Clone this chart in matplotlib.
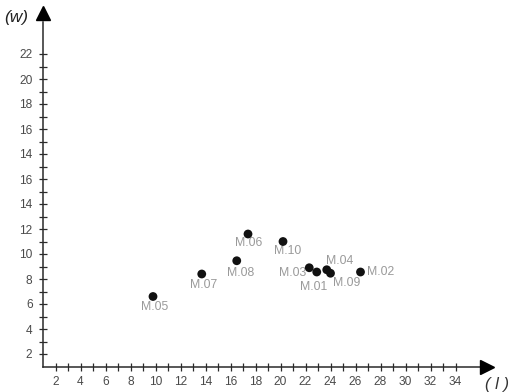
import matplotlib
matplotlib.use("Agg")
import matplotlib.pyplot as plt
from matplotlib.ticker import FixedLocator, FixedFormatter

plt.rcParams['font.family'] = ['Liberation Sans', 'DejaVu Sans']

# Samples: length (l) and width (w)
names = ["M.01", "M.02", "M.03", "M.04", "M.05",
         "M.06", "M.07", "M.08", "M.09", "M.10"]
length_l = [22.9, 26.4, 22.3, 23.7, 9.8, 17.4, 13.7, 16.5, 24.0, 20.2]
width_w = [8.56, 8.56, 8.9, 8.74, 6.6, 11.6, 8.4, 9.46, 8.46, 11.0]

# Axis tick labels
x_tick_pos = list(range(2, 35, 2))
x_tick_labels = [str(v) for v in x_tick_pos]
y_tick_pos = list(range(2, 27, 2))
y_tick_labels = ["2", "4", "6", "8", "10", "12", "14",
                 "16", "14", "16", "18", "20", "22"]

# Label placement around each point (offset in pixels, alignment)
label_place = {
    "M.01": ((-3, -15), "center"),
    "M.02": ((6, 0), "left"),
    "M.03": ((-3, -5), "right"),
    "M.04": ((13, 9), "center"),
    "M.05": ((2, -10), "center"),
    "M.06": ((1, -9), "center"),
    "M.07": ((2, -11), "center"),
    "M.08": ((4, -12), "center"),
    "M.09": ((16, -10), "center"),
    "M.10": ((5, -10), "center"),
}

fig = plt.figure(figsize=(5.10, 3.92), dpi=100)
ax = fig.add_axes([0, 0, 1, 1])
ax.set_xlim(-2.44, 38.36)
ax.set_ylim(-1.04, 30.32)
ax.patch.set_alpha(0)

axis_color = "#2a2a2a"
for side in ("top", "right"):
    ax.spines[side].set_visible(False)
ax.spines["left"].set_position(("data", 1))
ax.spines["bottom"].set_position(("data", 1))
ax.spines["left"].set_bounds(1, 28.6)
ax.spines["bottom"].set_bounds(1, 36.2)
for side in ("left", "bottom"):
    ax.spines[side].set_color(axis_color)
    ax.spines[side].set_linewidth(1.1)

ax.xaxis.set_major_locator(FixedLocator(x_tick_pos))
ax.xaxis.set_major_formatter(FixedFormatter(x_tick_labels))
ax.xaxis.set_minor_locator(FixedLocator(list(range(3, 35, 2))))
ax.yaxis.set_major_locator(FixedLocator(y_tick_pos))
ax.yaxis.set_major_formatter(FixedFormatter(y_tick_labels))
ax.yaxis.set_minor_locator(FixedLocator(list(range(3, 27, 2))))

ax.tick_params(which="both", direction="inout", length=5.5, width=0.9,
               color=axis_color)
ax.tick_params(axis="x", which="major", pad=4.0, labelsize=8.6,
               labelcolor="#4a4a4a")
ax.tick_params(axis="y", which="major", pad=4.8, labelsize=8.6,
               labelcolor="#4a4a4a")

# Arrow heads at the ends of both axes
ax.plot([36.55], [1], marker=">", markersize=10.5, color="black",
        clip_on=False, zorder=5)
ax.plot([1], [29.3], marker="^", markersize=9.5, color="black",
        clip_on=False, zorder=5)

# Axis titles
ax.text(-1.15, 28.95, "(w)", fontsize=12.5, style="italic",
        color="#222222", ha="center", va="center")
ax.text(38.3, -0.4, "( l )", fontsize=12, style="italic",
        color="#333333", ha="right", va="center")

ax.scatter(length_l, width_w, s=40, color="#111111", zorder=4,
           edgecolors="none")

for n, x, y in zip(names, length_l, width_w):
    (dx, dy), ha = label_place[n]
    ax.annotate(n, (x, y), xytext=(dx, dy), textcoords="offset pixels",
                ha=ha, va="center", fontsize=8.8, color="#9a9a9a")

fig.savefig("out.png", dpi=100)
